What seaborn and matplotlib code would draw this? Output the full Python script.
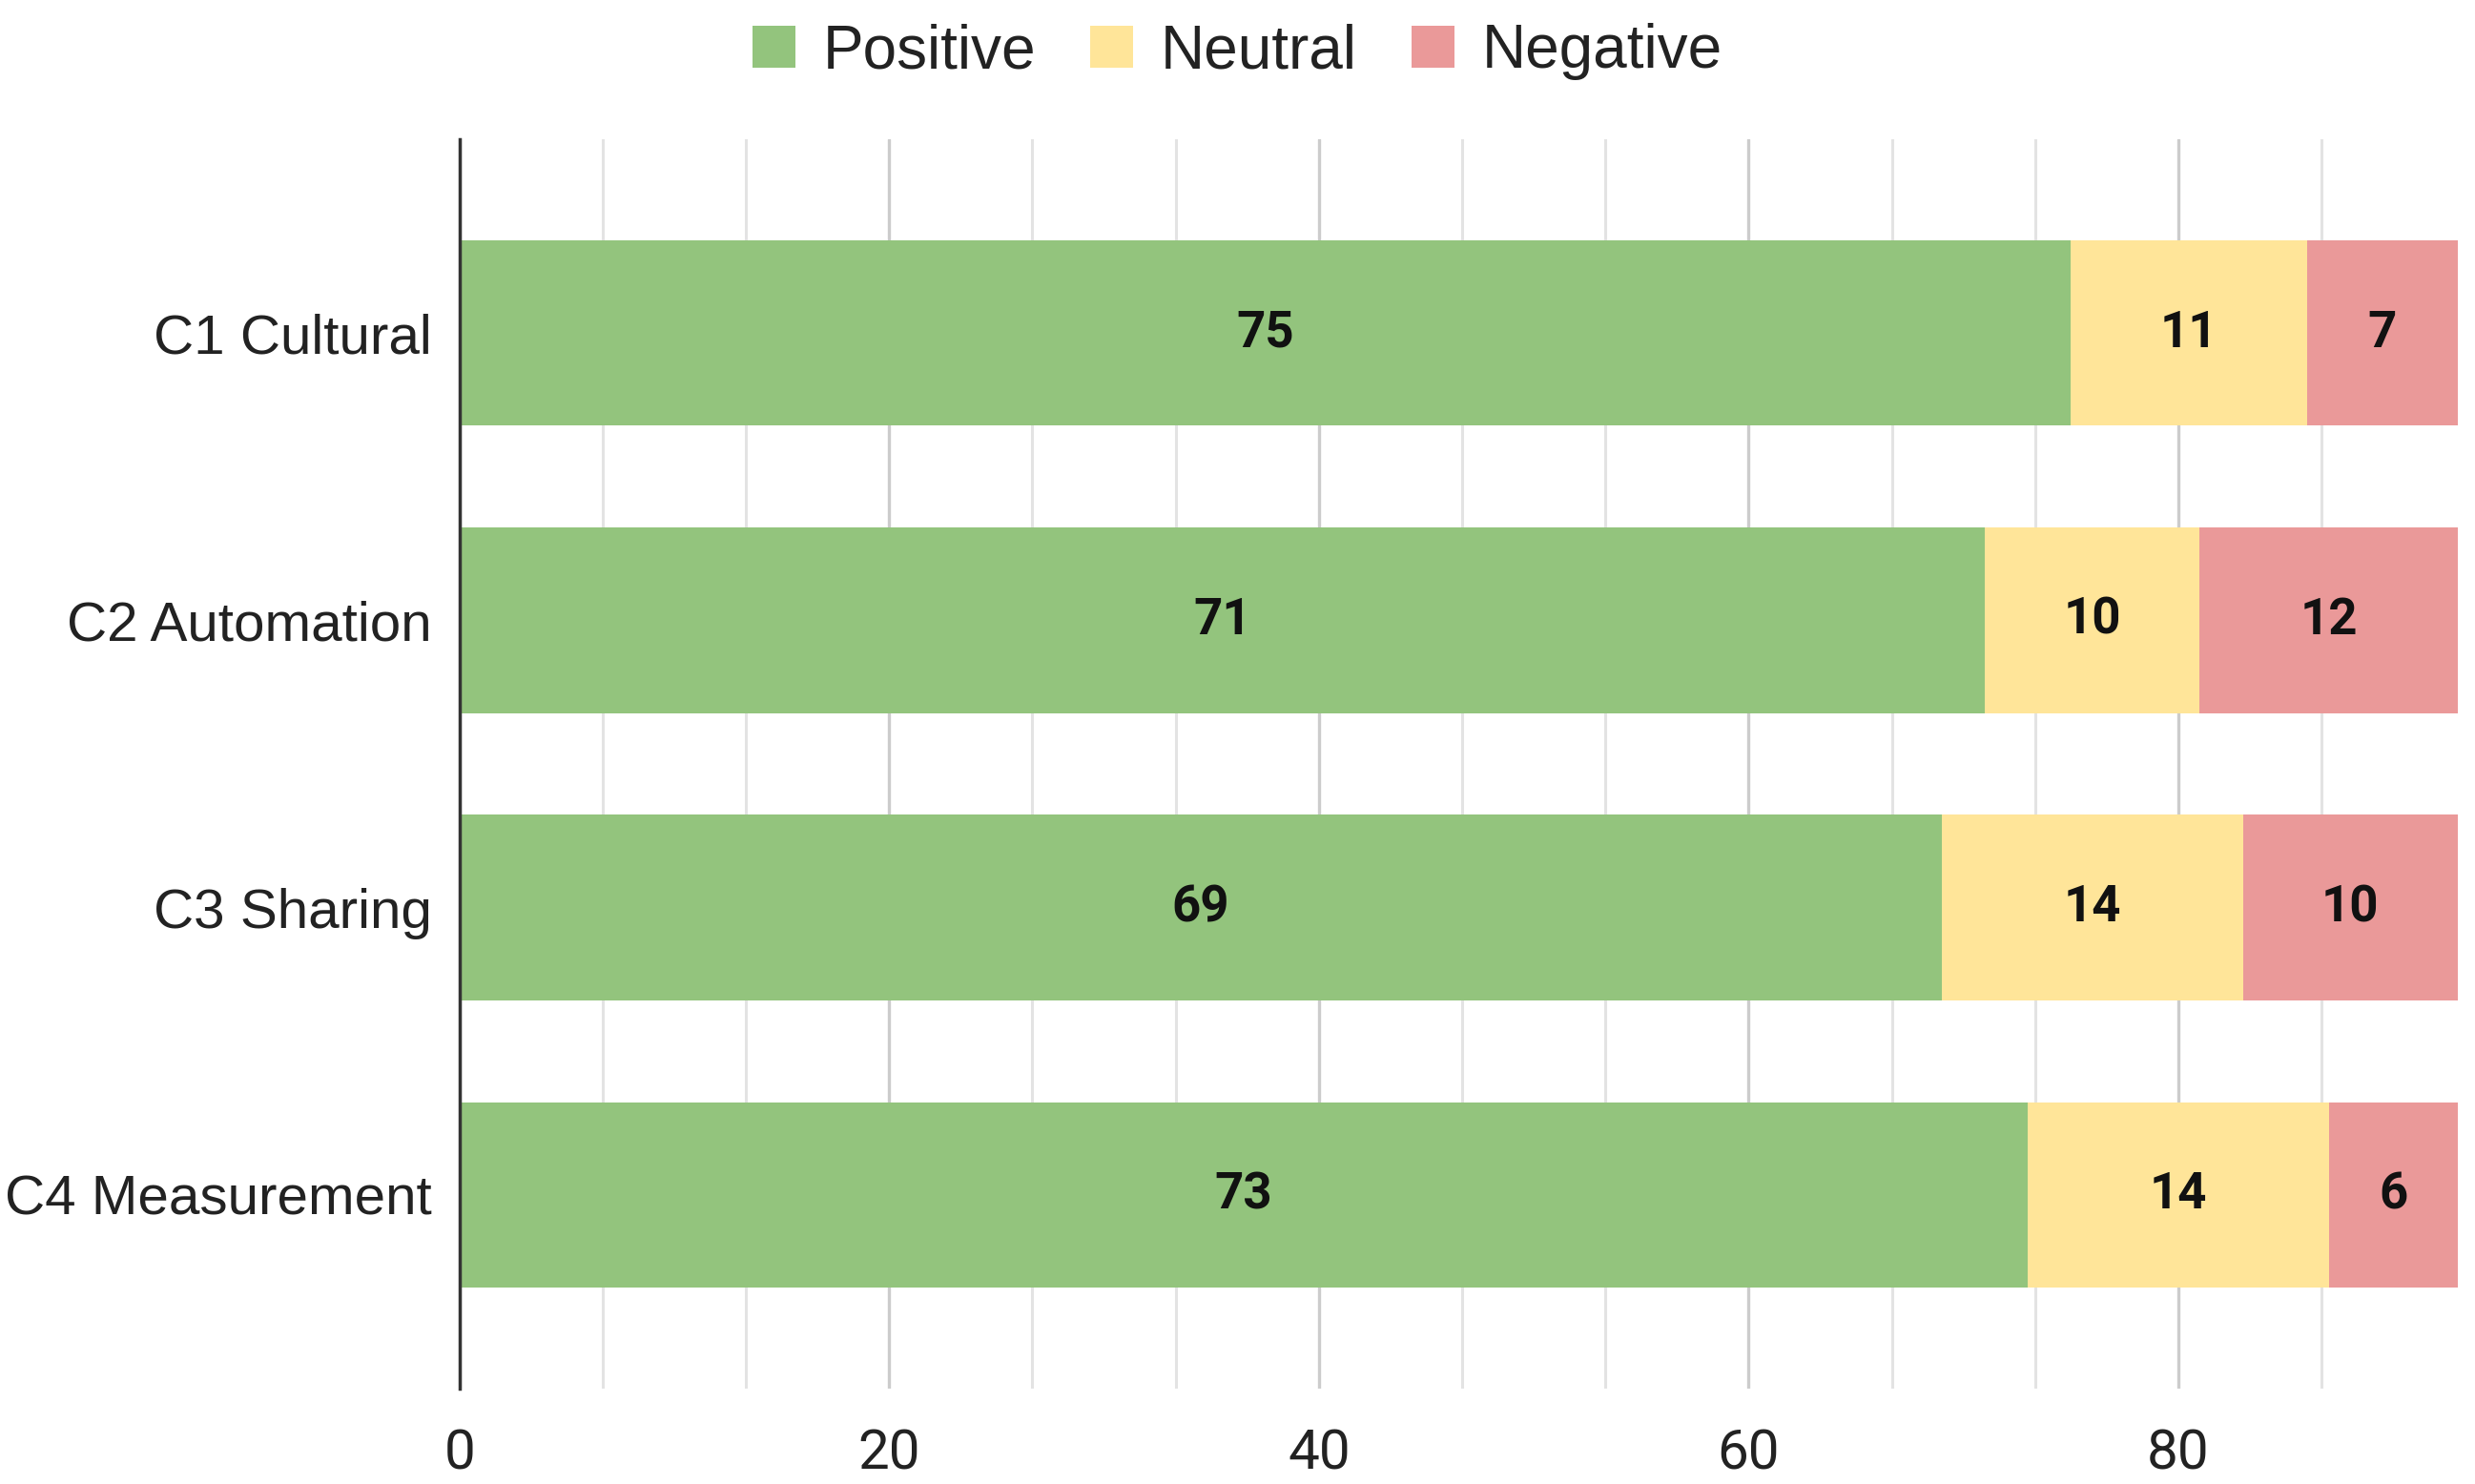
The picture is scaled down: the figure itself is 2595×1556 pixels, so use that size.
import matplotlib
matplotlib.use("Agg")
import matplotlib.pyplot as plt
from matplotlib.patches import Patch
from matplotlib.ticker import MultipleLocator
import numpy as np
import pandas as pd
import seaborn as sns

categories = ["C1 Cultural", "C2 Automation", "C3 Sharing", "C4 Measurement"]
positive = [75, 71, 69, 73]
neutral = [11, 10, 14, 14]
negative = [7, 12, 10, 6]
series_names = ["Positive", "Neutral", "Negative"]
colors = ["#93c47d", "#ffe599", "#ea9999"]
x_ticks = [0, 20, 40, 60, 80]

sns.set_theme(style="white")
plt.rcParams["font.family"] = ["Liberation Sans", "DejaVu Sans"]

df = pd.DataFrame({"cat": categories, "Positive": positive,
                   "Neutral": neutral, "Negative": negative})
df["c_pos"] = df["Positive"]
df["c_neu"] = df["Positive"] + df["Neutral"]
df["c_neg"] = df["Positive"] + df["Neutral"] + df["Negative"]

fig = plt.figure(figsize=(25.95, 15.56), dpi=100)
ax = fig.add_axes([0.1856, 0.0643, 0.8074, 0.8418])

# stacked via overlaying cumulative totals (largest first)
for col, color in zip(["c_neg", "c_neu", "c_pos"], colors[::-1]):
    sns.barplot(data=df, x=col, y="cat", order=categories, color=color,
                orient="h", width=0.645, saturation=1, ax=ax,
                linewidth=0, zorder=3)

# value labels centred in each segment
starts = [np.zeros(len(categories)), df["c_pos"].values, df["c_neu"].values]
vals = [df["Positive"].values, df["Neutral"].values, df["Negative"].values]
for st, v in zip(starts, vals):
    for i, (s, w) in enumerate(zip(st, v)):
        ax.text(s + w / 2, i, f"{w}", ha="center", va="center",
                fontsize=38, fontweight="bold", color="#111111",
                family=["Roboto", "DejaVu Sans"], zorder=5)

ax.set_xlim(0, 93)
ax.set_ylim(3.675, -0.675)
ax.set_xlabel("")
ax.set_ylabel("")

ax.xaxis.set_major_locator(MultipleLocator(20))
ax.xaxis.set_minor_locator(MultipleLocator(20 / 3))
ax.set_xticks(x_ticks)
ax.grid(False)
ax.grid(axis="x", which="minor", color="#e3e3e3", linewidth=2.2, zorder=0)
ax.grid(axis="x", which="major", color="#cccccc", linewidth=2.4, zorder=0)
ax.set_axisbelow(True)

for sp in ["top", "right", "bottom"]:
    ax.spines[sp].set_visible(False)
ax.spines["left"].set_color("#333333")
ax.spines["left"].set_linewidth(2.5)
ax.spines["left"].set_zorder(6)

ax.tick_params(axis="x", which="both", length=0, pad=30, labelsize=42,
               labelcolor="#222222")
ax.tick_params(axis="y", length=0, pad=21, labelsize=42, labelcolor="#222222")
for lab in ax.get_xticklabels():
    lab.set_family(["Roboto", "DejaVu Sans"])

handles = [Patch(facecolor=c, edgecolor="none", label=n)
           for c, n in zip(colors, series_names)]
fig.legend(handles=handles, loc="center", bbox_to_anchor=(0.5, 0.965),
           ncol=3, frameon=False, fontsize=46, handlelength=0.7,
           handleheight=0.7, handletextpad=0.45, columnspacing=0.9,
           labelcolor="#222222")

fig.savefig("out.png", dpi=100)
